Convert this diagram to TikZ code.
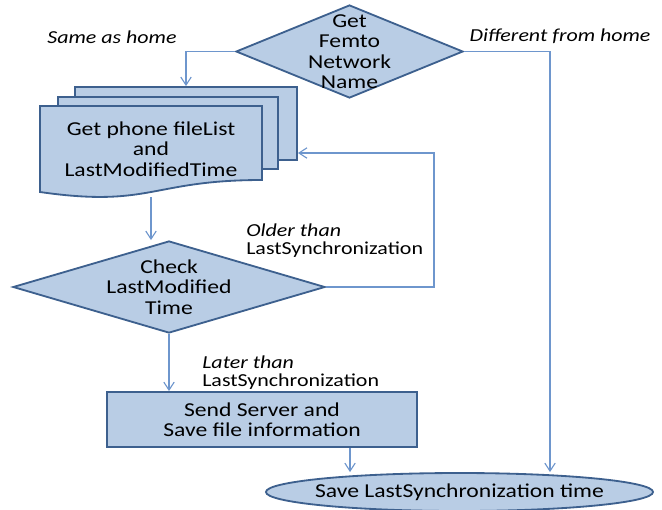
\documentclass[tikz,border=0pt]{standalone}
\usepackage{fontspec}
\setmainfont{Carlito}[FakeStretch=1.2]
\usepackage{xcolor}
\usetikzlibrary{positioning,shapes.geometric,arrows.meta,calc}

\definecolor{shapefill}{RGB}{185,205,229}
\definecolor{shapeline}{RGB}{61,96,142}
\definecolor{linkline}{RGB}{110,150,205}

\begin{document}
\begin{tikzpicture}[
    x=0.025cm,
    y=-0.025cm,
    font=\fontsize{14}{14.5}\selectfont,
    decision/.style={
        diamond,
        draw=shapeline,
        line width=1.3pt,
        fill=shapefill,
        inner sep=0pt,
        text depth=0pt,
        text height=0pt
    },
    process/.style={
        rectangle,
        draw=shapeline,
        line width=1.3pt,
        fill=shapefill,
        align=center
    },
    docpage/.style={
        rectangle,
        draw=shapeline,
        line width=1.3pt,
        fill=shapefill,
        inner sep=0pt
    },
    terminal/.style={
        ellipse,
        draw=shapeline,
        line width=1.3pt,
        fill=shapefill,
        inner sep=0pt
    },
    cond/.style={
        font=\fontsize{13}{12.3}\selectfont,
        align=left,
        inner sep=0pt
    },
    arr/.style={
        -{Straight Barb[length=2mm,width=2.6mm]},
        draw=linkline,
        line width=0.8pt
    }
]
\useasboundingbox (0,0) rectangle (662,509);

% top decision
\node[decision, minimum width=5.675cm, minimum height=2.325cm,
      label={[align=center]center:Get\\Femto\\Network\\Name}] (femto) at (349.5,51.5) {};

% stacked documents
\node[docpage, minimum width=5.55cm, minimum height=1.825cm] (back) at (186,123.5) {};
\node[docpage, minimum width=5.5cm, minimum height=1.8cm] (middle) at (168,133) {};
\path[draw=shapeline, line width=1.3pt, fill=shapefill]
    (40,106) -- (262,106) -- (262,180)
    .. controls (151,180) and (151,208) .. (40,192) -- cycle;
\node[align=center, minimum width=5.55cm, minimum height=2.15cm, inner sep=0pt] (docs) at (151,149)
{Get phone fileList\\and\\LastModifiedTime};

% second decision
\node[decision, minimum width=7.8cm, minimum height=2.3cm,
      label={[align=center]center:Check\\LastModified\\Time}] (check) at (169,287) {};

% process and end
\node[process, minimum width=7.75cm, minimum height=1.375cm] (send) at (262,419.5)
{Send Server and\\Save file information};
\node[terminal, minimum width=9.675cm, minimum height=0.95cm,
      label={center:Save LastSynchronization time}] (save) at (459.5,492) {};

% branch labels
\node[cond] (same) at (112,37) {\itshape Same as home};
\node[cond] (diff) at (560,36) {\itshape Different from home};
\node[cond, anchor=west] (older) at (246,240.5) {\itshape Older than\\LastSynchronization};
\node[cond, anchor=west] (later) at (202,372.5) {\itshape Later than\\LastSynchronization};

% connectors
\coordinate (loop) at (434,153);
\coordinate (diffdrop) at (550,52);
\draw[arr] (femto.west) -| (back.north);
\draw[arr] (femto.east) -| (save.north -| diffdrop);
\draw[arr] ([yshift=-0.12cm]docs.south) -- (docs.south |- check.north);
\draw[arr] (check.east) -| (loop) -- (loop -| back.east);
\draw[arr] (check.south) -- (check.south |- send.north);
\draw[arr] ([xshift=2.2cm]send.south) -- ([xshift=2.2cm]send.south |- save.north);

\end{tikzpicture}
\end{document}
